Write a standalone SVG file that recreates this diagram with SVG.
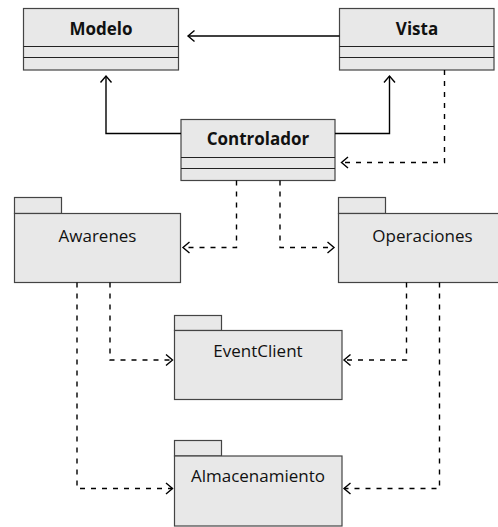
<svg xmlns="http://www.w3.org/2000/svg" width="498" height="527" viewBox="0 0 498 527">
<defs>
<style>
.box{fill:#e8e8e8;stroke:#444;stroke-width:1.2}
.div{stroke:#222;stroke-width:1.2;fill:none}
.t{font-family:"Open Sans","DejaVu Sans",sans-serif;font-size:17px;fill:#111;text-anchor:middle}
.b{font-weight:bold}
.c{fill:none;stroke:#000;stroke-width:1.4}
.d{stroke-dasharray:5,6}
.ah{fill:none;stroke:#000;stroke-width:1.4;stroke-dasharray:none}
</style>
<marker id="arr" markerUnits="userSpaceOnUse" markerWidth="12" markerHeight="14" viewBox="-8 -7 10 14" refX="0" refY="0" orient="auto">
<path class="ah" d="M-6.5,-5.5 L0,0 L-6.5,5.5"/>
</marker>
</defs>
<g id="Modelo">
<rect class="box" x="23.5" y="8.5" width="155" height="61.5"/>
<path class="div" d="M23.5,46.5H178.5M23.5,57.5H178.5"/>
<text class="t b" x="101" y="35">Modelo</text>
</g>
<g id="Vista">
<rect class="box" x="339.5" y="8.5" width="154.5" height="61.5"/>
<path class="div" d="M339.5,46.5H494M339.5,57.5H494"/>
<text class="t b" x="417" y="35">Vista</text>
</g>
<g id="Controlador">
<rect class="box" x="181" y="119.5" width="154" height="61"/>
<path class="div" d="M181,157.5H335M181,168.5H335"/>
<text class="t b" x="258" y="145">Controlador</text>
</g>
<g id="Awarenes">
<rect class="box" x="14.5" y="197.5" width="47" height="16"/>
<rect class="box" x="14.5" y="213.5" width="166" height="69"/>
<text class="t" x="97.5" y="242">Awarenes</text>
</g>
<g id="Operaciones">
<rect class="box" x="338.5" y="197.5" width="47" height="16"/>
<rect class="box" x="338.5" y="213.5" width="168" height="69"/>
<text class="t" x="422.5" y="242">Operaciones</text>
</g>
<g id="EventClient">
<rect class="box" x="174.5" y="315.5" width="47" height="15"/>
<rect class="box" x="174.5" y="330.5" width="167.5" height="69"/>
<text class="t" x="258" y="357">EventClient</text>
</g>
<g id="Almacenamiento">
<rect class="box" x="174.5" y="440.5" width="47" height="15.5"/>
<rect class="box" x="174.5" y="456" width="167.5" height="70"/>
<text class="t" x="258" y="482">Almacenamiento</text>
</g>
<g id="connectors">
<path class="c" d="M339.5,36H188" marker-end="url(#arr)"/>
<path class="c" d="M181,133.5H106V76" marker-end="url(#arr)"/>
<path class="c" d="M335,133.5H389.5V76" marker-end="url(#arr)"/>
<path class="c d" d="M444.5,70V162.5H341.5" marker-end="url(#arr)"/>
<path class="c d" d="M236.5,180.5V247.5H183" marker-end="url(#arr)"/>
<path class="c d" d="M280,180.5V247.5H334" marker-end="url(#arr)"/>
<path class="c d" d="M110,282.5V360H172.5" marker-end="url(#arr)"/>
<path class="c d" d="M77,282.5V488.5H172.5" marker-end="url(#arr)"/>
<path class="c d" d="M406.5,282.5V360H344" marker-end="url(#arr)"/>
<path class="c d" d="M439.5,282.5V488.5H344" marker-end="url(#arr)"/>
</g>
</svg>
